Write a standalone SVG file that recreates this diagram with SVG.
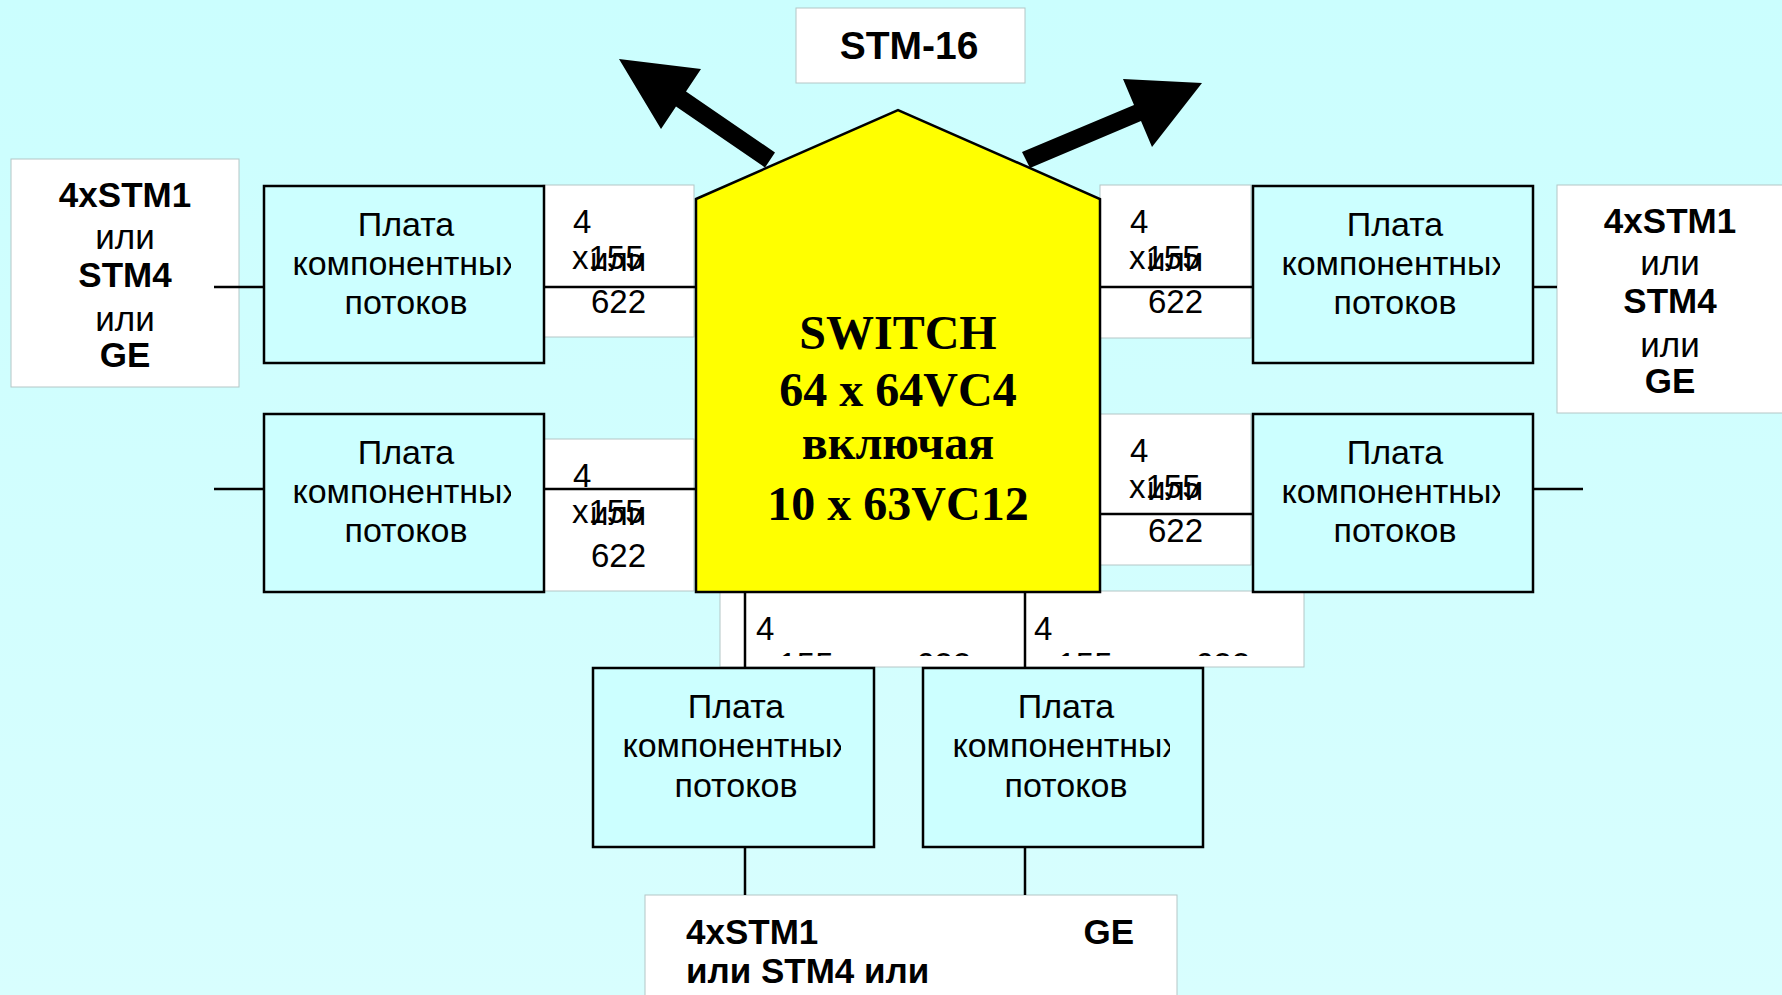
<svg xmlns="http://www.w3.org/2000/svg" width="1782" height="995" viewBox="0 0 1782 995">
<defs>
<linearGradient id="bg" x1="0" y1="0" x2="0" y2="1"><stop offset="0" stop-color="#cbfefe"/><stop offset="1" stop-color="#d8fefe"/></linearGradient>
<clipPath id="c1"><rect x="268" y="186" width="243" height="177"/></clipPath>
<clipPath id="c2"><rect x="268" y="414" width="243" height="178"/></clipPath>
<clipPath id="c3"><rect x="1257" y="186" width="243" height="177"/></clipPath>
<clipPath id="c4"><rect x="1257" y="414" width="243" height="178"/></clipPath>
<clipPath id="c5"><rect x="597" y="668" width="244" height="179"/></clipPath>
<clipPath id="c6"><rect x="927" y="668" width="243" height="179"/></clipPath>
<clipPath id="cb"><rect x="720" y="592" width="584" height="64"/></clipPath>
</defs>
<style>
.board{fill:#ccffff;stroke:#000;stroke-width:2.5}
.frame{fill:#fff;stroke:#b4c6c6;stroke-width:1}
.bt{font-family:"Liberation Sans",Arial,sans-serif;font-size:34px;text-anchor:middle;fill:#000}
.lt{font-family:"Liberation Sans",Arial,sans-serif;font-size:33px;fill:#000}
.ot{font-family:"Liberation Sans",Arial,sans-serif;font-size:35px;fill:#000}
.b{font-weight:bold}
.mid{text-anchor:middle}
.sw{font-family:"Liberation Serif","Times New Roman",serif;font-size:48px;font-weight:bold;text-anchor:middle;fill:#000}
.wire{stroke:#000;stroke-width:2.5;fill:none}
.arrow{fill:#000}
</style>
<rect x="0" y="0" width="1782" height="995" fill="url(#bg)"/>

<g id="stm16">
<rect class="frame" x="796" y="8" width="229" height="75"/>
<text class="ot b mid" x="909" y="59" style="font-size:39px">STM-16</text>
</g>

<g id="left-interface">
<rect class="frame" x="11" y="159" width="228" height="228"/>
<text class="ot b mid" x="125" y="207">4xSTM1</text>
<text class="ot mid" x="125" y="249">или</text>
<text class="ot b mid" x="125" y="287">STM4</text>
<text class="ot mid" x="125" y="331">или</text>
<text class="ot b mid" x="125" y="367">GE</text>
</g>

<g id="right-interface">
<rect class="frame" x="1557" y="185" width="235" height="228"/>
<text class="ot b mid" x="1670" y="233">4xSTM1</text>
<text class="ot mid" x="1670" y="275">или</text>
<text class="ot b mid" x="1670" y="313">STM4</text>
<text class="ot mid" x="1670" y="357">или</text>
<text class="ot b mid" x="1670" y="393">GE</text>
</g>

<g id="bottom-interface">
<rect class="frame" x="645" y="895" width="532" height="110"/>
<text class="ot b" x="686" y="944">4xSTM1</text>
<text class="ot b" x="686" y="983">или STM4 или</text>
<text class="ot b" x="1134" y="944" text-anchor="end">GE</text>
</g>

<g id="label-tl">
<rect class="frame" x="543" y="185" width="151" height="152"/>
<text class="lt" x="573" y="233">4</text>
<text class="lt" x="572" y="269">х155</text>
<text class="lt" x="590" y="271">или</text>
<text class="lt" x="591" y="313">622</text>
</g>
<g id="label-ll">
<rect class="frame" x="543" y="439" width="151" height="152"/>
<text class="lt" x="573" y="487">4</text>
<text class="lt" x="572" y="523">х155</text>
<text class="lt" x="590" y="525">или</text>
<text class="lt" x="591" y="567">622</text>
</g>
<g id="label-tr">
<rect class="frame" x="1100" y="185" width="151" height="153"/>
<text class="lt" x="1130" y="233">4</text>
<text class="lt" x="1129" y="269">х155</text>
<text class="lt" x="1147" y="271">или</text>
<text class="lt" x="1148" y="313">622</text>
</g>
<g id="label-lr">
<rect class="frame" x="1100" y="414" width="151" height="151"/>
<text class="lt" x="1130" y="462">4</text>
<text class="lt" x="1129" y="498">х155</text>
<text class="lt" x="1147" y="500">или</text>
<text class="lt" x="1148" y="542">622</text>
</g>
<g id="label-bottom">
<rect class="frame" x="720" y="591" width="584" height="76"/>
<text class="lt" x="756" y="640">4</text>
<text class="lt" x="1034" y="640">4</text>
<g clip-path="url(#cb)">
<text class="lt" x="762" y="676">х155 или <tspan x="916">622</tspan></text>
<text class="lt" x="1041" y="676">х155 или <tspan x="1195">622</tspan></text>
</g>
</g>

<g id="connectors">
<line class="wire" x1="214" y1="287" x2="264" y2="287"/>
<line class="wire" x1="544" y1="287" x2="696" y2="287"/>
<line class="wire" x1="214" y1="489" x2="264" y2="489"/>
<line class="wire" x1="544" y1="489" x2="696" y2="489"/>
<line class="wire" x1="1100" y1="287" x2="1253" y2="287"/>
<line class="wire" x1="1533" y1="287" x2="1557" y2="287"/>
<line class="wire" x1="1100" y1="514" x2="1253" y2="514"/>
<line class="wire" x1="1533" y1="489" x2="1583" y2="489"/>
<line class="wire" x1="745" y1="592" x2="745" y2="668"/>
<line class="wire" x1="1025" y1="592" x2="1025" y2="668"/>
<line class="wire" x1="745" y1="847" x2="745" y2="895"/>
<line class="wire" x1="1025" y1="847" x2="1025" y2="895"/>
<polygon class="arrow" points="619,59 701,69 686,91.5 775,152.5 765,167.5 676,106.5 661,129"/>
<polygon class="arrow" points="1202,83 1152,147 1141,121 1030,168 1022,152 1134,105 1123,79"/>
</g>

<g id="switch">
<polygon points="696,199 898,110 1100,199 1100,592 696,592" fill="#ffff00" stroke="#000" stroke-width="2.5"/>
<text class="sw" x="898" y="349">SWITCH</text>
<text class="sw" x="898" y="406">64 x 64VC4</text>
<text class="sw" x="898" y="459">включая</text>
<text class="sw" x="898" y="520">10 x 63VC12</text>
</g>

<g id="board-tl">
<rect class="board" x="264" y="186" width="280" height="177"/>
<g clip-path="url(#c1)">
<text class="bt" x="406" y="236">Плата</text>
<text class="bt" x="406" y="275">компонентных</text>
<text class="bt" x="406" y="314">потоков</text>
</g>
</g>
<g id="board-ll">
<rect class="board" x="264" y="414" width="280" height="178"/>
<g clip-path="url(#c2)">
<text class="bt" x="406" y="464">Плата</text>
<text class="bt" x="406" y="503">компонентных</text>
<text class="bt" x="406" y="542">потоков</text>
</g>
</g>
<g id="board-tr">
<rect class="board" x="1253" y="186" width="280" height="177"/>
<g clip-path="url(#c3)">
<text class="bt" x="1395" y="236">Плата</text>
<text class="bt" x="1395" y="275">компонентных</text>
<text class="bt" x="1395" y="314">потоков</text>
</g>
</g>
<g id="board-lr">
<rect class="board" x="1253" y="414" width="280" height="178"/>
<g clip-path="url(#c4)">
<text class="bt" x="1395" y="464">Плата</text>
<text class="bt" x="1395" y="503">компонентных</text>
<text class="bt" x="1395" y="542">потоков</text>
</g>
</g>
<g id="board-bl">
<rect class="board" x="593" y="668" width="281" height="179"/>
<g clip-path="url(#c5)">
<text class="bt" x="736" y="718">Плата</text>
<text class="bt" x="736" y="757">компонентных</text>
<text class="bt" x="736" y="797">потоков</text>
</g>
</g>
<g id="board-br">
<rect class="board" x="923" y="668" width="280" height="179"/>
<g clip-path="url(#c6)">
<text class="bt" x="1066" y="718">Плата</text>
<text class="bt" x="1066" y="757">компонентных</text>
<text class="bt" x="1066" y="797">потоков</text>
</g>
</g>
</svg>
